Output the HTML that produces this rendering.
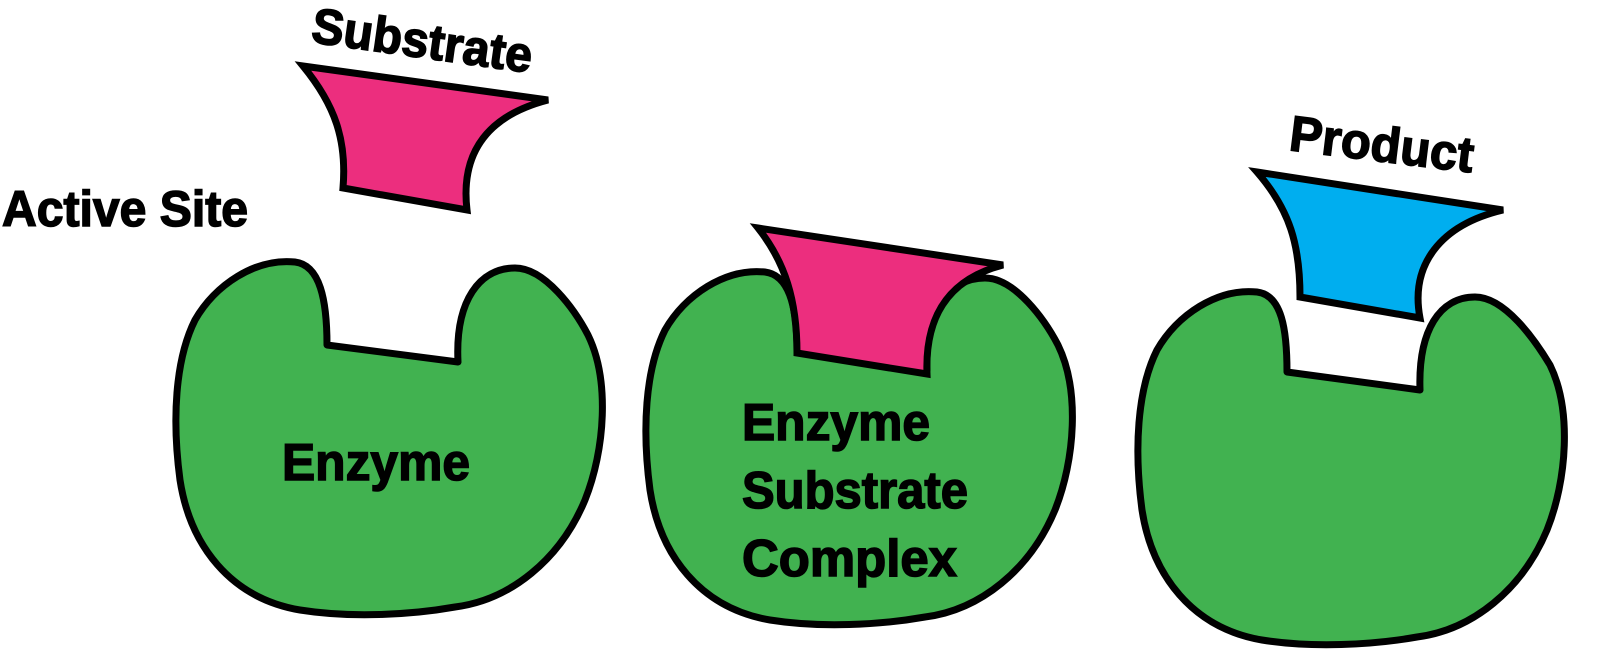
<!DOCTYPE html>
<html><head><meta charset="utf-8"><style>html,body{margin:0;padding:0;background:#fff}svg{display:block}</style></head>
<body>
<svg width="1600" height="664" viewBox="0 0 1600 664" xmlns="http://www.w3.org/2000/svg" font-family="Liberation Sans, sans-serif" font-weight="bold">
<g fill="#41b250" stroke="#000" stroke-width="7" stroke-linejoin="round">
<path d="M327,345 L458,362 C455,300 480,268 515,268 C545,268 575,310 588,335 C610,380 605,450 585,500 C560,560 510,600 455,607 C410,615 350,618 300,610 C230,598 190,545 180,480 C172,420 175,360 195,320 C215,285 255,258 295,262 C320,265 327,300 327,345 Z"/>
<path d="M797,350 L927,370 C925,310 950,278 985,278 C1015,278 1045,320 1058,345 C1080,390 1075,460 1055,510 C1030,570 980,610 925,617 C880,625 820,628 770,620 C700,608 660,555 650,490 C642,430 645,370 665,330 C685,295 725,268 765,272 C790,275 797,310 797,350 Z"/>
<path d="M1287,372 L1420,390 C1418,330 1440,297 1475,297 C1505,297 1535,340 1550,365 C1572,410 1567,480 1547,530 C1522,590 1472,630 1417,637 C1372,645 1312,648 1262,640 C1192,628 1152,575 1142,510 C1134,450 1137,390 1157,350 C1177,315 1217,288 1257,292 C1282,295 1287,330 1287,372 Z"/>
</g>
<g stroke="#000" stroke-width="7" stroke-linejoin="miter">
<path fill="#ec2e7e" d="M303,66 L548,100 C490,115 460,150 467,210 L343,188 C347,140 335,105 303,66 Z"/>
<path fill="#ec2e7e" d="M758,228 L1003,265 C945,280 925,320 927,374 L797,353 C797,300 785,262 758,228 Z"/>
<path fill="#00aeef" d="M1257,172 L1503,210 C1440,225 1410,265 1420,318 L1300,297 C1300,245 1290,210 1257,172 Z"/>
</g>
<g fill="#000" stroke="#000" stroke-width="1.5">
<text x="310" y="42" font-size="50" transform="rotate(8 310 42)" textLength="222" lengthAdjust="spacingAndGlyphs">Substrate</text>
<text x="2" y="226" font-size="50" textLength="246" lengthAdjust="spacingAndGlyphs">Active Site</text>
<text x="282" y="480" font-size="52" textLength="188" lengthAdjust="spacingAndGlyphs">Enzyme</text>
<text x="742" y="440" font-size="52" textLength="188" lengthAdjust="spacingAndGlyphs">Enzyme</text>
<text x="742" y="508" font-size="52" textLength="226" lengthAdjust="spacingAndGlyphs">Substrate</text>
<text x="742" y="576" font-size="52" textLength="215" lengthAdjust="spacingAndGlyphs">Complex</text>
<text x="1288" y="150" font-size="50" transform="rotate(7 1288 150)" textLength="185" lengthAdjust="spacingAndGlyphs">Product</text>
</g>
</svg>
</body></html>
